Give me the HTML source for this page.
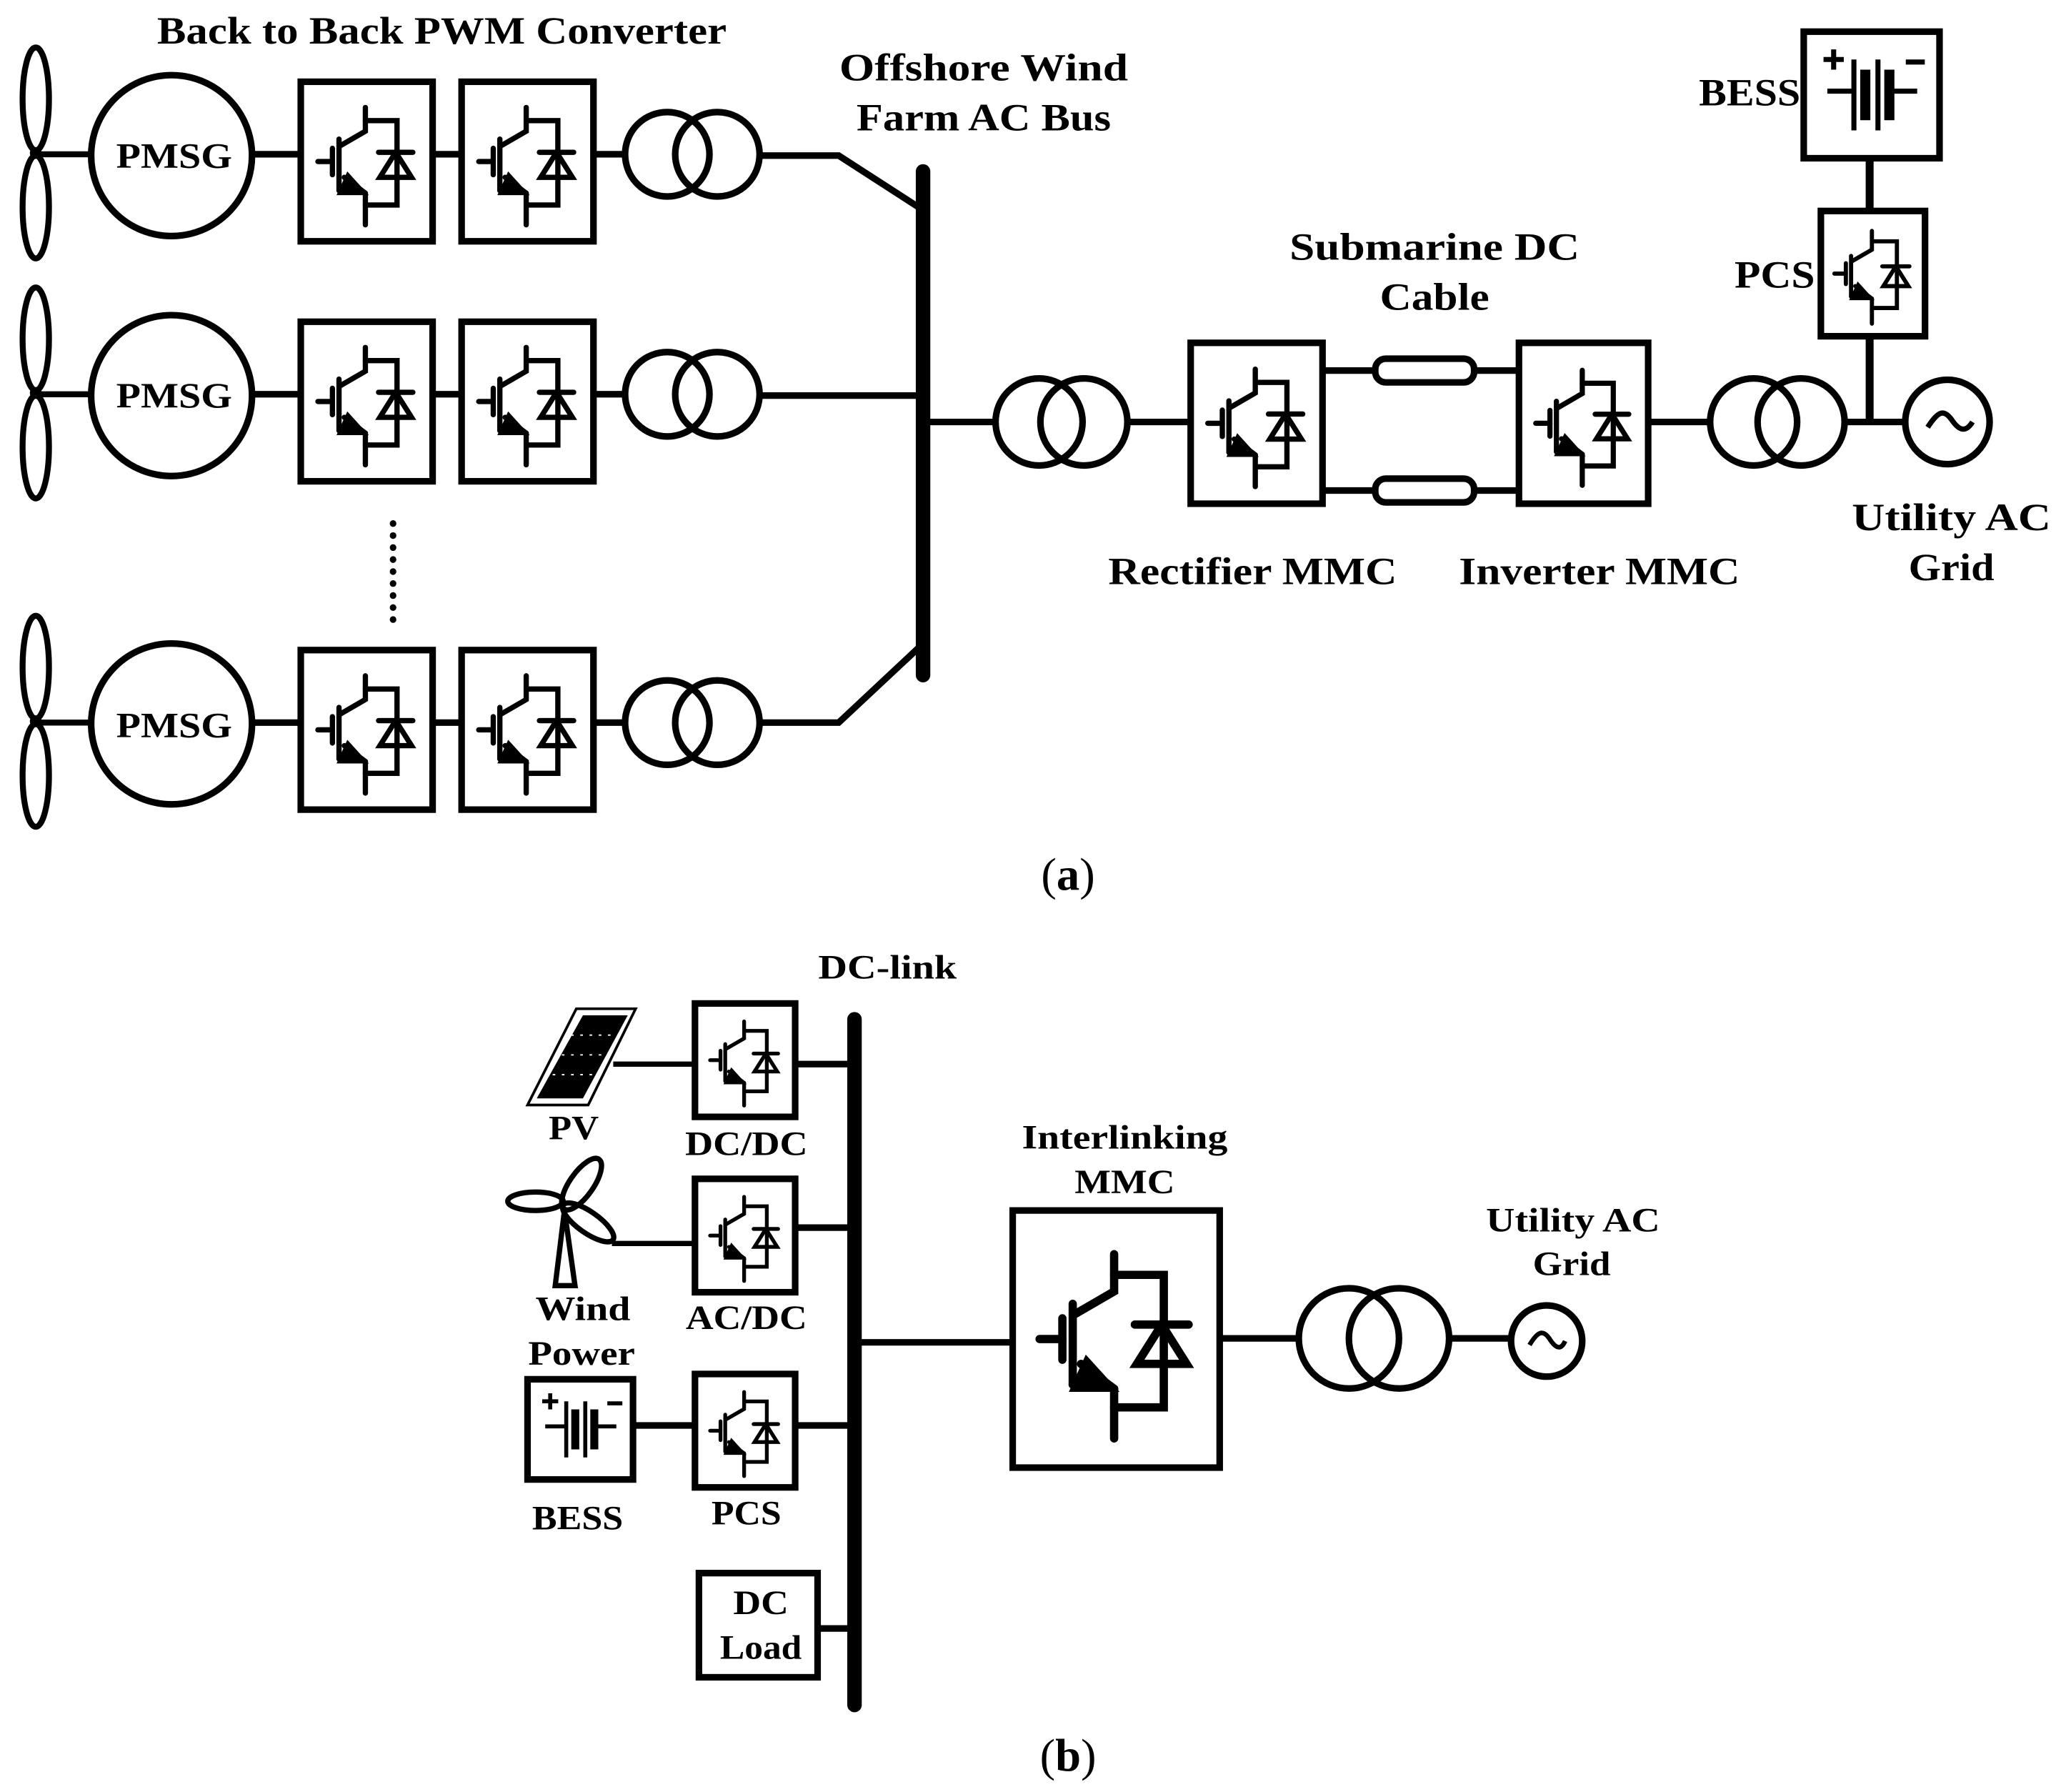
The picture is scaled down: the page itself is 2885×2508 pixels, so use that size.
<!DOCTYPE html>
<html><head><meta charset="utf-8"><style>html,body{margin:0;padding:0;background:#fff}svg{display:block}</style></head><body>
<svg xmlns="http://www.w3.org/2000/svg" xmlns:xlink="http://www.w3.org/1999/xlink" width="2885" height="2508" viewBox="0 0 1563 1359">
<defs>
<symbol id="ig" viewBox="0 0 100 120">
<g fill="none" stroke="#000" stroke-width="4" stroke-linecap="round">
<line x1="13" y1="60" x2="24" y2="60"/>
<line x1="24" y1="50" x2="24" y2="70"/>
<line x1="29" y1="43" x2="29" y2="82"/>
<polyline points="30,48 49,37 49,19"/>
<polyline points="49,29 73,29 73,93 49,93"/>
<polyline points="29,82 36,82"/>
<line x1="33" y1="72" x2="49" y2="84"/>
<line x1="49" y1="84" x2="49" y2="108"/>
<line x1="59" y1="53" x2="85" y2="53"/>
<polygon points="72,53 60,72 84,72" stroke-linejoin="miter"/>
</g>
<polygon points="36,72 46,83 31,83" fill="#000"/>
</symbol>
<symbol id="bat" viewBox="0 0 100 100">
<g stroke="#000" fill="none">
<line x1="15" y1="47" x2="36" y2="47" stroke-width="4"/>
<line x1="36" y1="22" x2="36" y2="78" stroke-width="4"/>
<line x1="45" y1="30" x2="45" y2="70" stroke-width="8"/>
<line x1="55" y1="22" x2="55" y2="78" stroke-width="4"/>
<line x1="64" y1="30" x2="64" y2="70" stroke-width="8"/>
<line x1="64" y1="47" x2="86" y2="47" stroke-width="4"/>
<line x1="12" y1="22" x2="28" y2="22" stroke-width="4"/>
<line x1="20" y1="14" x2="20" y2="30" stroke-width="4"/>
<line x1="77" y1="24" x2="92" y2="24" stroke-width="4"/>
</g>
</symbol>
</defs>
<g font-family="Liberation Serif, serif" font-weight="bold" text-anchor="middle" fill="#000" lengthAdjust="spacingAndGlyphs">
<text x="335" y="33" font-size="29" textLength="432" lengthAdjust="spacingAndGlyphs">Back to Back PWM Converter</text>
<text x="746" y="61" font-size="29" textLength="219" lengthAdjust="spacingAndGlyphs">Offshore Wind</text>
<text x="746" y="99" font-size="29" textLength="193" lengthAdjust="spacingAndGlyphs">Farm AC Bus</text>
<text x="1088" y="197" font-size="29" textLength="220" lengthAdjust="spacingAndGlyphs">Submarine DC</text>
<text x="1088" y="235" font-size="29" textLength="83" lengthAdjust="spacingAndGlyphs">Cable</text>
<text x="1327" y="80" font-size="29" textLength="77" lengthAdjust="spacingAndGlyphs">BESS</text>
<text x="1346" y="218" font-size="29" textLength="61" lengthAdjust="spacingAndGlyphs">PCS</text>
<text x="950" y="443" font-size="29" textLength="219" lengthAdjust="spacingAndGlyphs">Rectifier MMC</text>
<text x="1213" y="443" font-size="29" textLength="213" lengthAdjust="spacingAndGlyphs">Inverter MMC</text>
<text x="1480" y="402" font-size="29" textLength="151" lengthAdjust="spacingAndGlyphs">Utility AC</text>
<text x="1480" y="440" font-size="29" textLength="65" lengthAdjust="spacingAndGlyphs">Grid</text>
<text x="810" y="675" font-size="35" font-weight="normal">(<tspan font-weight="bold">a</tspan>)</text>
<text x="132" y="127" font-size="27" textLength="88" lengthAdjust="spacingAndGlyphs">PMSG</text>
<text x="132" y="309" font-size="27" textLength="88" lengthAdjust="spacingAndGlyphs">PMSG</text>
<text x="132" y="559" font-size="27" textLength="88" lengthAdjust="spacingAndGlyphs">PMSG</text>
<text x="673" y="742" font-size="26" textLength="105" lengthAdjust="spacingAndGlyphs">DC-link</text>
<text x="435" y="864" font-size="26" textLength="38" lengthAdjust="spacingAndGlyphs">PV</text>
<text x="566" y="876" font-size="26" textLength="93" lengthAdjust="spacingAndGlyphs">DC/DC</text>
<text x="442" y="1001" font-size="26" textLength="72" lengthAdjust="spacingAndGlyphs">Wind</text>
<text x="441" y="1035" font-size="26" textLength="81" lengthAdjust="spacingAndGlyphs">Power</text>
<text x="566" y="1008" font-size="26" textLength="92" lengthAdjust="spacingAndGlyphs">AC/DC</text>
<text x="438" y="1160" font-size="26" textLength="69" lengthAdjust="spacingAndGlyphs">BESS</text>
<text x="566" y="1156" font-size="26" textLength="53" lengthAdjust="spacingAndGlyphs">PCS</text>
<text x="577" y="1224" font-size="26" textLength="42" lengthAdjust="spacingAndGlyphs">DC</text>
<text x="577" y="1258" font-size="26" textLength="62" lengthAdjust="spacingAndGlyphs">Load</text>
<text x="853" y="871" font-size="26" textLength="156" lengthAdjust="spacingAndGlyphs">Interlinking</text>
<text x="853" y="905" font-size="26" textLength="76" lengthAdjust="spacingAndGlyphs">MMC</text>
<text x="1193" y="934" font-size="26" textLength="132" lengthAdjust="spacingAndGlyphs">Utility AC</text>
<text x="1192" y="967" font-size="26" textLength="59" lengthAdjust="spacingAndGlyphs">Grid</text>
<text x="810" y="1343" font-size="35" font-weight="normal">(<tspan font-weight="bold">b</tspan>)</text>
</g>
<g fill="none" stroke="#000" stroke-width="5">
<g id="row1">
<ellipse cx="27" cy="75" rx="10" ry="39" stroke-width="4.5"/>
<ellipse cx="27" cy="157" rx="10" ry="39" stroke-width="4.5"/>
<circle cx="27" cy="116" r="3" stroke-width="3"/>
<line x1="31" y1="117" x2="68" y2="117" stroke-width="4.5"/>
<circle cx="130" cy="118" r="61"/>
<line x1="191" y1="117" x2="228" y2="117"/>
<rect x="228" y="62" width="100" height="121"/>
<line x1="328" y1="117" x2="350" y2="117"/>
<rect x="350" y="62" width="100" height="121"/>
<line x1="450" y1="117" x2="473" y2="117"/>
<circle cx="506" cy="117" r="32"/>
<circle cx="544" cy="117" r="32"/>
</g>
<use xlink:href="#ig" x="228" y="62" width="100" height="121"/>
<use xlink:href="#ig" x="350" y="62" width="100" height="121"/>
<g transform="translate(0,182)"><use xlink:href="#row1"/><use xlink:href="#ig" x="228" y="62" width="100" height="121"/><use xlink:href="#ig" x="350" y="62" width="100" height="121"/></g>
<g transform="translate(0,431)"><use xlink:href="#row1"/><use xlink:href="#ig" x="228" y="62" width="100" height="121"/><use xlink:href="#ig" x="350" y="62" width="100" height="121"/></g>
<polyline points="576,118 636,118 698,158"/>
<line x1="576" y1="300" x2="700" y2="300"/>
<polyline points="576,548 636,548 698,490"/>
<line x1="700" y1="130" x2="700" y2="512" stroke-width="11" stroke-linecap="round"/>
<line x1="298" y1="397" x2="298" y2="476" stroke-width="5" stroke-dasharray="0.1 9" stroke-linecap="round"/>
<line x1="700" y1="320" x2="754" y2="320"/>
<circle cx="788" cy="320" r="33"/>
<circle cx="822" cy="320" r="33"/>
<line x1="855" y1="320" x2="903" y2="320"/>
<rect x="903" y="260" width="100" height="122"/>
<use xlink:href="#ig" x="903" y="260" width="100" height="122"/>
<line x1="1003" y1="281" x2="1152" y2="281"/>
<line x1="1003" y1="372" x2="1152" y2="372"/>
<rect x="1043" y="272" width="75" height="18" rx="8" fill="#fff"/>
<rect x="1043" y="363" width="75" height="18" rx="8" fill="#fff"/>
<rect x="1152" y="260" width="98" height="122"/>
<use xlink:href="#ig" x="1152" y="260" width="98" height="122"/>
<line x1="1250" y1="320" x2="1297" y2="320"/>
<circle cx="1330" cy="320" r="33"/>
<circle cx="1366" cy="320" r="33"/>
<line x1="1399" y1="320" x2="1445" y2="320"/>
<circle cx="1477" cy="320" r="32"/>
<path d="M1462,324 C1470,312 1474,310 1480,318 C1486,327 1491,328 1496,320" stroke-width="4"/>
<line x1="1418" y1="320" x2="1418" y2="255" stroke-width="6"/>
<rect x="1381" y="160" width="79" height="95"/>
<use xlink:href="#ig" x="1381" y="160" width="79" height="95"/>
<line x1="1418" y1="160" x2="1418" y2="120" stroke-width="6"/>
<rect x="1368" y="24" width="103" height="96"/>
<use xlink:href="#bat" x="1368" y="24" width="103" height="96"/>
<line x1="648" y1="773" x2="648" y2="1293" stroke-width="11" stroke-linecap="round"/>
<polygon points="437,765 482,765 446,838 400,838" stroke-width="2"/>
<polygon points="442,770 476,770 442,833 407,833" fill="#000" stroke="none"/>
<g stroke="#fff" stroke-width="1" stroke-dasharray="2 5">
<line x1="433" y1="785" x2="470" y2="785"/><line x1="426" y1="800" x2="463" y2="800"/><line x1="419" y1="815" x2="455" y2="815"/>
</g>
<line x1="465" y1="807" x2="527" y2="807" stroke-width="4"/>
<rect x="527" y="761" width="76" height="86"/>
<use xlink:href="#ig" x="527" y="761" width="76" height="86"/>
<line x1="603" y1="807" x2="648" y2="807"/>
<ellipse cx="406" cy="911" rx="21" ry="7" stroke-width="4"/>
<ellipse cx="441" cy="898" rx="9" ry="23" transform="rotate(35 441 898)" stroke-width="4"/>
<ellipse cx="446" cy="927" rx="23" ry="8" transform="rotate(35 446 927)" stroke-width="4"/>
<polygon points="428,918 421,975 436,975" stroke-width="4"/>
<line x1="464" y1="943" x2="527" y2="943" stroke-width="4"/>
<rect x="527" y="894" width="76" height="86"/>
<use xlink:href="#ig" x="527" y="894" width="76" height="86"/>
<line x1="603" y1="931" x2="648" y2="931"/>
<rect x="400" y="1046" width="80" height="76"/>
<use xlink:href="#bat" x="400" y="1046" width="80" height="76"/>
<line x1="480" y1="1081" x2="527" y2="1081"/>
<rect x="527" y="1042" width="76" height="86"/>
<use xlink:href="#ig" x="527" y="1042" width="76" height="86"/>
<line x1="603" y1="1081" x2="648" y2="1081"/>
<rect x="530" y="1193" width="90" height="79"/>
<line x1="620" y1="1235" x2="648" y2="1235"/>
<line x1="648" y1="1018" x2="768" y2="1018"/>
<rect x="768" y="918" width="157" height="195"/>
<use xlink:href="#ig" x="768" y="918" width="157" height="195"/>
<line x1="925" y1="1015" x2="985" y2="1015"/>
<circle cx="1023" cy="1015" r="38"/>
<circle cx="1061" cy="1015" r="38"/>
<line x1="1099" y1="1015" x2="1147" y2="1015"/>
<circle cx="1173" cy="1017" r="27"/>
<path d="M1160,1020 C1166,1010 1170,1008 1175,1015 C1180,1023 1184,1024 1187,1017" stroke-width="3.5"/>
</g>
</svg>
</body></html>
